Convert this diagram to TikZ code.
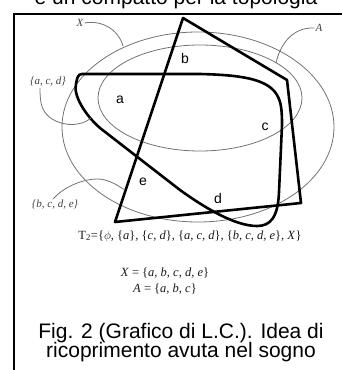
\documentclass[tikz,border=0pt]{standalone}
\usepackage{fontspec}
\setmainfont{Liberation Serif}
\newfontfamily\arial{Liberation Sans}
\begin{document}
\begin{tikzpicture}[
x=1pt, y=-1pt,
thickset/.style={draw=black, line width=2.6pt, line join=round},
thinset/.style={draw=black!55, line width=0.8pt},
callout/.style={draw=black!55, line width=0.8pt},
region/.style={font=\arial\fontsize{14}{16}\selectfont, inner sep=0pt},
setlabel/.style={font=\fontsize{11}{13}\selectfont\itshape, text=black!75, inner sep=1pt},
formula/.style={font=\fontsize{12.5}{14}\selectfont, text=black!90, inner sep=0pt, anchor=base},
caption/.style={font=\arial\fontsize{21}{19}\selectfont, inner sep=0pt, anchor=base}
]
\useasboundingbox (0,0) rectangle (342,370);
\clip (0,0) rectangle (342,370);

% cut-off line of the page above, and the frame
\node[caption] (above) at (176,4) {e un compatto per la topologia};
\draw[line width=2pt] (14,380) |- (350,14);

% X and A
\draw[thinset] (198,127) ellipse [x radius=136, y radius=95];
\draw[thinset] (200,98) ellipse [x radius=102, y radius=53];

% {a, c, d}
\draw[thickset] (82,74) -- (200,74) .. controls (245,75) and (265,80) .. (275,92)
  .. controls (281,100) and (282,108) .. (282,125) -- (279,192)
  .. controls (278,218) and (270,226) .. (257,226)
  .. controls (235,226) and (205,208) .. (180,190) -- (100,128)
  .. controls (85,115) and (73,95) .. (76,84)
  .. controls (77,78) and (78,74) .. cycle;

% {b, c, d, e}
\draw[thickset] (183,18) -- (287,80) -- (301,203) -- (115,222) -- cycle;

% points
\node[region] (pa) at (120,100) {a};
\node[region] (pb) at (185,58) {b};
\node[region] (pc) at (265,127) {c};
\node[region] (pd) at (218,198) {d};
\node[region] (pe) at (143,182) {e};

% callouts
\node[setlabel] (lX) at (80,23) {X};
\coordinate (onX) at (123,46);
\draw[callout] (lX.east) .. controls (100,20) and (118,28) .. (onX);

\node[setlabel] (lA) at (319,28) {A};
\coordinate (onA) at (276,63);
\draw[callout] (lA.west) .. controls (292,27) and (280,45) .. (onA);

\node[setlabel] (lacd) at (48,82) {\{a, c, d\}};
\coordinate (onacd) at (91,118);
\draw[callout] ([xshift=-8pt]lacd.south) .. controls (40,105) and (42,112) .. (52,119)
  .. controls (65,127) and (82,126) .. (onacd);

\node[setlabel] (lbcde) at (55,205) {\{b, c, d, e\}};
\coordinate (onbcde) at (125,190);
\draw[callout] ([xshift=-2pt]lbcde.north) .. controls (65,185) and (90,176) .. (105,180)
  .. controls (115,183) and (120,187) .. (onbcde);

% topology
\node[formula] (topo) at (190,239) {T\textsubscript{2}=\{$\phi$, \{\textit{a}\}, \{\textit{c, d}\}, \{\textit{a, c, d}\}, \{\textit{b, c, d, e}\}, \textit{X}\}};
\node[formula] (setX) at (165,276) {\textit{X} = \{\textit{a, b, c, d, e}\}};
\node[formula] (setA) at (165,292) {\textit{A} = \{\textit{a, b, c}\}};

\node[caption] (cap1) at (181,338) {Fig. 2 (Grafico di L.C.). Idea di};
\node[caption] (cap2) at (181,357) {ricoprimento avuta nel sogno};

\end{tikzpicture}
\end{document}
